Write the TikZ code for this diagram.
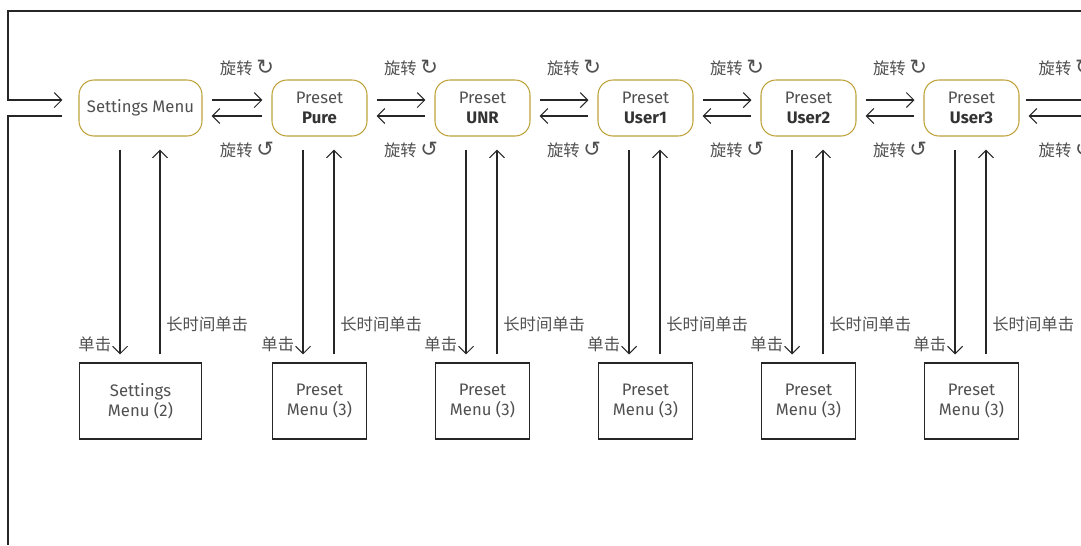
\documentclass[tikz,border=0pt]{standalone}
\usepackage{fontspec}
\setmainfont{Fira Sans}
\newfontfamily\cjk{Noto Sans CJK SC}
\newfontfamily\symfont{DejaVu Sans}
\usepackage{tikz}
\usetikzlibrary{arrows.meta, positioning}
\definecolor{gold}{HTML}{BFA23A}
\definecolor{ink}{HTML}{505050}
\newcommand{\cw}{{\symfont\fontsize{12}{11}\selectfont ↻}}
\newcommand{\ccw}{{\symfont\fontsize{12}{11}\selectfont ↺}}

\begin{document}
\begin{tikzpicture}[x=0.02cm, y=-0.02cm,
    every node/.style={text=ink, font=\fontsize{9.5}{11.4}\selectfont},
    modebox/.style={draw=gold, line width=0.6pt, rounded corners=3mm, minimum width=1.9cm, minimum height=1.12cm, align=center},
    menubox/.style={draw=black!85, line width=0.6pt, minimum width=1.88cm, minimum height=1.52cm, align=center},
    arr/.style={-{Straight Barb[length=1.5mm,width=3mm]}, draw=black!85, line width=0.6pt},
    plain/.style={draw=black!85, line width=0.6pt},
    lbl/.style={font=\cjk\fontsize{9.3}{11}\selectfont}]
    \useasboundingbox (0,0) rectangle (1081,545);

    % main row
    \node[modebox, minimum width=2.46cm] (settings) at (140.5,108) {Settings Menu};
    \foreach \name/\title/\xx in {pure/Pure/319.5, unr/UNR/482.5, user1/User1/645.5, user2/User2/808.5, user3/User3/971.5}
        \node[modebox] (\name) at (\xx,108) {Preset\\\textbf{\color{black!80}\title}};

    % menus below
    \node[menubox, minimum width=2.44cm, below=4.52cm of settings] (msettings) {Settings\\Menu (2)};
    \foreach \name in {pure, unr, user1, user2, user3}
        \node[menubox, below=4.52cm of \name] (m\name) {Preset\\Menu (3)};

    % rotate arrows
    \foreach \a/\b in {settings/pure, pure/unr, unr/user1, user1/user2, user2/user3} {
        \draw[arr, shorten <=0.18cm, shorten >=0.18cm] ([yshift=0.16cm]\a.east) -- ([yshift=0.16cm]\b.west);
        \draw[arr, shorten <=0.18cm, shorten >=0.18cm] ([yshift=-0.16cm]\b.west) -- ([yshift=-0.16cm]\a.east);
        \path (\a.east) -- (\b.west)
            node[lbl, midway, xshift=0.2cm, yshift=0.8cm] {旋转 \cw}
            node[lbl, midway, xshift=0.2cm, yshift=-0.84cm] {旋转 \ccw};
    }
    \coordinate (rightedge) at (1081,108);
    \draw[plain, shorten <=0.12cm] ([yshift=0.16cm]user3.east) -- ([yshift=0.16cm]rightedge);
    \draw[arr, shorten >=0.18cm] ([yshift=-0.16cm]rightedge) -- ([yshift=-0.16cm]user3.east);
    \node[lbl, anchor=west] at ([xshift=0.26cm, yshift=0.8cm]user3.east) {旋转 \cw};
    \node[lbl, anchor=west] at ([xshift=0.26cm, yshift=-0.84cm]user3.east) {旋转 \ccw};

    % press / long press
    \foreach \name/\dl/\ur in {settings/-0.41cm/0.39cm, pure/-0.33cm/0.29cm, unr/-0.33cm/0.29cm, user1/-0.33cm/0.29cm, user2/-0.33cm/0.29cm, user3/-0.33cm/0.29cm} {
        \draw[arr, shorten <=0.26cm, shorten >=0.16cm] ([xshift=\dl]\name.south) -- ([xshift=\dl]m\name.north)
            node[lbl, pos=0.92, left=0.5mm] {单击};
        \draw[arr, shorten <=0.16cm, shorten >=0.26cm] ([xshift=\ur]m\name.north) -- ([xshift=\ur]\name.south)
            node[lbl, pos=0.17, right=0mm] {长时间单击};
    }

    % back loop
    \coordinate (topleft) at (8,11);
    \coordinate (topright) at (1081,11);
    \coordinate (bottomleft) at (8,545);
    \draw[arr, shorten >=0.32cm] (topright) -- (topleft) |- ([yshift=0.16cm]settings.west);
    \draw[plain] ([yshift=-0.16cm, xshift=-0.32cm]settings.west) -| (bottomleft);
\end{tikzpicture}
\end{document}
